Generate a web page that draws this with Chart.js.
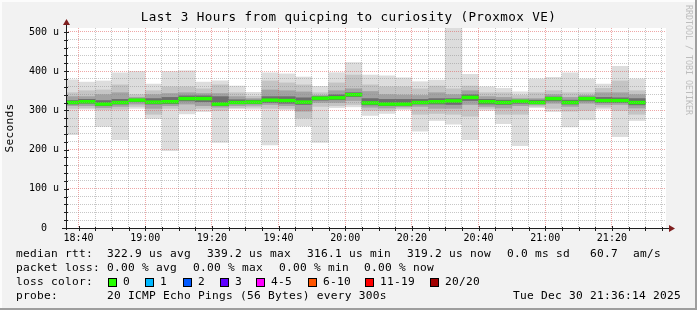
<!DOCTYPE html>
<html>
<head>
<meta charset="utf-8">
<script src="https://cdn.jsdelivr.net/npm/chart.js"></script>
<style>
  html, body { margin: 0; padding: 0; background: #f2f2f2; }
  canvas { display: block; }
</style>
</head>
<body>
<canvas id="smoke" width="697" height="310"></canvas>
<script>
const title = 'Last 3 Hours from quicping to curiosity (Proxmox VE)'
const yTitle = 'Seconds'
const watermark = 'RRDTOOL / TOBI OETIKER'
const start = '18:36:14'
const end = '21:36:14'

// one 5 minute slot per bar (slot start)
const slots = [
    '18:35', '18:40', '18:45', '18:50', '18:55', '19:00', '19:05', '19:10', '19:15',
    '19:20', '19:25', '19:30', '19:35', '19:40', '19:45', '19:50', '19:55', '20:00',
    '20:05', '20:10', '20:15', '20:20', '20:25', '20:30', '20:35', '20:40', '20:45',
    '20:50', '20:55', '21:00', '21:05', '21:10', '21:15', '21:20', '21:25',
]

// smoke, in microseconds
const maxs = [378, 372, 375, 396, 399, 367, 399, 401, 372, 375, 362, 346, 396, 393, 385, 361, 396, 422, 390, 388, 383, 373, 377, 512, 392, 360, 356, 347, 380, 384, 396, 380, 367, 412, 380]
const hi2  = [345, 350, 352, 365, 340, 350, 360, 360, 355, 365, 345, 336, 375, 370, 365, 345, 370, 390, 365, 360, 360, 355, 362, 355, 362, 345, 345, 338, 345, 350, 345, 345, 356, 375, 350]
const hi3  = [335, 335, 340, 345, 333, 340, 343, 345, 343, 343, 335, 330, 352, 350, 347, 338, 350, 355, 348, 340, 339, 338, 345, 340, 350, 335, 333, 330, 330, 340, 333, 338, 345, 345, 340]
const hi4  = [325, 328, 325, 328, 329, 330, 333, 337, 337, 335, 327, 326, 335, 335, 332, 335, 340, 345, 330, 328, 328, 328, 330, 330, 340, 328, 326, 326, 326, 334, 326, 334, 333, 332, 330]
const medians = [320, 322, 316, 320, 326, 321, 322, 330, 330, 316, 320, 321, 326, 325, 321, 331, 332, 340, 319, 316, 316, 320, 322, 324, 333, 322, 320, 323, 320, 330, 320, 330, 325, 325, 320]
const lo4  = [316, 318, 312, 316, 322, 316, 317, 324, 322, 312, 317, 317, 320, 318, 315, 326, 327, 335, 314, 312, 313, 316, 316, 315, 325, 316, 315, 318, 317, 324, 316, 324, 320, 320, 314]
const lo3  = [312, 312, 307, 310, 316, 305, 312, 316, 312, 308, 312, 313, 315, 312, 298, 320, 320, 325, 308, 306, 309, 310, 305, 305, 315, 310, 306, 312, 314, 318, 310, 318, 315, 315, 306]
const lo2  = [305, 306, 302, 303, 310, 290, 305, 300, 305, 300, 307, 308, 305, 305, 280, 310, 312, 315, 300, 300, 305, 290, 292, 290, 285, 305, 290, 290, 310, 305, 298, 300, 308, 300, 290]
const mins = [238, 303, 259, 225, 305, 279, 197, 291, 297, 218, 304, 303, 212, 301, 260, 218, 307, 309, 287, 292, 302, 247, 274, 265, 225, 300, 266, 210, 307, 297, 258, 276, 303, 233, 274]

const tickLabels = ['18:40', '19:00', '19:20', '19:40', '20:00', '20:20', '20:40', '21:00', '21:20']
const yTickLabels = ['0  ', '100 u', '200 u', '300 u', '400 u', '500 u']

const rttStats = ['322.9 us avg', '339.2 us max', '316.1 us min', '319.2 us now', '0.0 ms sd', '60.7', 'am/s']
const lossStats = ['0.00 % avg', '0.00 % max', '0.00 % min', '0.00 % now']
const lossLabels = ['0', '1', '2', '3', '4-5', '6-10', '11-19', '20/20']
const lossColors = ['#26ff00', '#00b8ff', '#0059ff', '#5e00ff', '#ff00ff', '#ff5500', '#ff0000', '#a10000']
const probeText = '20 ICMP Echo Pings (56 Bytes) every 300s'
const stamp = 'Tue Dec 30 21:36:14 2025'

const MONO = 'DejaVu Sans Mono'
const GRID = 'rgba(143,143,143,0.5)'
const MGRID = 'rgba(222,79,79,0.5)'

// minutes since 18:00
var toMin = (s) => {
    const p = s.split(':').map(Number)
    return (p[0] - 18) * 60 + p[1] + (p[2] || 0) / 60
}

var band = (lo, hi, color, order) => ({
    type: 'bar',
    data: slots.map((s, i) => ({x: toMin(s) + 2.5, y: [lo[i], hi[i]]})),
    backgroundColor: color,
    borderWidth: 0,
    barPercentage: 1,
    categoryPercentage: 1,
    grouped: false,
    order: order,
})

const medianBand = band(medians.map(v => v - 3.5), medians.map(v => v + 3.5), lossColors[0], 0)

const rrdPlugin = {
    id: 'rrd',
    beforeDraw(chart) {
        const c = chart.ctx
        const a = chart.chartArea
        c.save()
        c.fillStyle = '#f2f2f2'
        c.fillRect(0, 0, chart.width, chart.height)
        c.fillStyle = '#fcfcfc'
        c.fillRect(0, 0, chart.width, 2)
        c.fillRect(0, 0, 2, chart.height)
        c.fillStyle = '#9e9e9e'
        c.fillRect(0, chart.height - 2, chart.width, 2)
        c.fillRect(chart.width - 2, 0, 2, chart.height)
        c.fillStyle = '#ffffff'
        c.fillRect(a.left, a.top, a.right - a.left, a.bottom - a.top)
        c.restore()
    },
    afterDraw(chart) {
        const c = chart.ctx
        const a = chart.chartArea
        const xs = chart.scales.x
        const ys = chart.scales.y
        c.save()

        // axes
        c.strokeStyle = '#1f1f1f'
        c.lineWidth = 1
        c.beginPath()
        c.moveTo(a.left + 0.5, a.bottom + 2)
        c.lineTo(a.left + 0.5, a.top - 4)
        c.moveTo(a.left - 4, a.bottom + 0.5)
        c.lineTo(a.right + 4, a.bottom + 0.5)
        ys.ticks.forEach(t => {
            const y = Math.round(ys.getPixelForValue(t.value)) + 0.5
            const big = t.value % 100 === 0
            c.moveTo(a.left - 2, y)
            c.lineTo(a.left + (big ? 3 : 2), y)
        })
        xs.ticks.forEach(t => {
            const x = Math.round(xs.getPixelForValue(t.value)) + 0.5
            const big = t.value % 20 === 0
            c.moveTo(x, a.bottom + 3)
            c.lineTo(x, a.bottom - (big ? 2 : 1))
        })
        c.stroke()
        c.fillStyle = '#7f1f1f'
        c.beginPath()
        c.moveTo(a.left + 0.5, a.top - 9)
        c.lineTo(a.left - 3, a.top - 3)
        c.lineTo(a.left + 4, a.top - 3)
        c.fill()
        c.beginPath()
        c.moveTo(a.right + 9, a.bottom + 0.5)
        c.lineTo(a.right + 3, a.bottom - 3)
        c.lineTo(a.right + 3, a.bottom + 4)
        c.fill()

        // title
        c.fillStyle = '#000'
        c.textBaseline = 'middle'
        c.textAlign = 'center'
        c.font = '12.6px "' + MONO + '"'
        c.letterSpacing = '0.41px'
        c.fillText(title, 348.5, 18)

        // vertical texts
        c.font = '11.2px "' + MONO + '"'
        c.letterSpacing = '0.26px'
        c.save()
        c.translate(10, (a.top + a.bottom) / 2)
        c.rotate(-Math.PI / 2)
        c.fillText(yTitle, 0, 0)
        c.restore()

        c.save()
        c.font = '8.3px "' + MONO + '"'
        c.letterSpacing = '0px'
        c.fillStyle = '#bdbdbd'
        c.textAlign = 'left'
        c.translate(688, 5)
        c.rotate(Math.PI / 2)
        c.fillText(watermark, 0, 0)
        c.restore()

        // legend
        c.textAlign = 'left'
        c.fillStyle = '#000'
        const rows = [254.5, 268.5, 282.5, 296.5]
        c.fillText('median rtt:', 16, rows[0])
        const rttX = [107, 207, 307, 407, 507, 590, 633]
        rttStats.forEach((s, i) => c.fillText(s, rttX[i], rows[0]))

        c.fillText('packet loss:', 16, rows[1])
        const lossX = [107, 193, 279, 364]
        lossStats.forEach((s, i) => c.fillText(s, lossX[i], rows[1]))

        c.fillText('loss color:', 16, rows[2])
        const boxX = [108, 145, 183, 220, 256, 308, 365, 430]
        lossLabels.forEach((s, i) => {
            c.fillStyle = lossColors[i]
            c.fillRect(boxX[i], rows[2] - 4.5, 9, 9)
            c.strokeStyle = '#000'
            c.strokeRect(boxX[i] + 0.5, rows[2] - 4, 8, 8)
            c.fillStyle = '#000'
            c.fillText(s, boxX[i] + 15, rows[2])
        })

        c.fillText('probe:', 16, rows[3])
        c.fillText(probeText, 107, rows[3])
        c.textAlign = 'right'
        c.fillText(stamp, 681, rows[3])
        c.restore()
    },
}

const config = {
    type: 'bar',
    data: {
        datasets: [
            medianBand,
            band(lo4, hi4, '#6e6e6e', 1),
            band(lo3, hi3, '#a2a2a2', 2),
            band(lo2, hi2, '#c4c4c4', 3),
            band(mins, maxs, '#dddddd', 4),
        ],
    },
    options: {
        responsive: false,
        animation: false,
        devicePixelRatio: 1,
        layout: {padding: {left: 0, top: 28, right: 31, bottom: 0}},
        plugins: {legend: {display: false}, tooltip: {enabled: false}},
        scales: {
            x: {
                type: 'linear',
                min: toMin(start),
                max: toMin(end),
                offset: false,
                grid: {
                    offset: false,
                    drawTicks: false,
                    z: 1,
                    color: (ctx) => ctx.tick && ctx.tick.value % 20 === 0 ? MGRID : GRID,
                },
                border: {display: false, dash: [1, 1]},
                afterBuildTicks: (scale) => {
                    const t = []
                    for (let v = Math.ceil(scale.min / 5) * 5; v <= scale.max; v += 5) t.push({value: v})
                    scale.ticks = t
                },
                afterFit: (scale) => { scale.height = 82 },
                ticks: {
                    autoSkip: false,
                    maxRotation: 0,
                    minRotation: 0,
                    padding: 4,
                    color: '#000',
                    font: {family: MONO, size: 10},
                    callback: (v) => {
                        const hit = tickLabels.find(l => Math.abs(toMin(l) - v) < 0.01)
                        return hit || ''
                    },
                },
            },
            y: {
                min: 0,
                max: 510,
                grid: {
                    drawTicks: false,
                    z: 1,
                    color: (ctx) => ctx.tick && ctx.tick.value % 100 === 0 ? MGRID : GRID,
                },
                border: {display: false, dash: [1, 1]},
                afterFit: (scale) => { scale.width = 66 },
                ticks: {
                    stepSize: 20,
                    includeBounds: false,
                    autoSkip: false,
                    padding: 7,
                    color: '#000',
                    font: {family: MONO, size: 10},
                    callback: (v) => v % 100 === 0 ? yTickLabels[v / 100] : '',
                },
            },
        },
    },
    plugins: [rrdPlugin],
}

const myChart = new Chart(document.getElementById('smoke'), config)
</script>
</body>
</html>
